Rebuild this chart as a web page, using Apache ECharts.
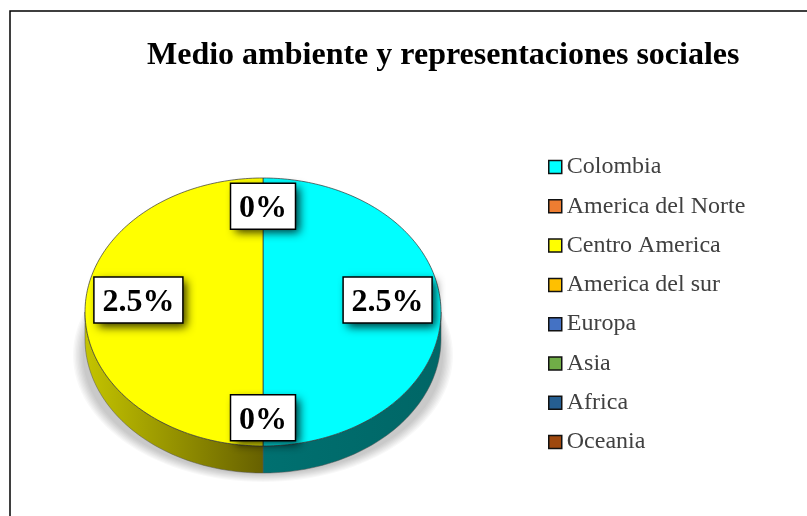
<!DOCTYPE html>
<html>
<head>
<meta charset="utf-8">
<script src="https://cdn.jsdelivr.net/npm/echarts@6/dist/echarts.min.js"></script>
<style>
    html, body { margin: 0; padding: 0; background: #fff; overflow: hidden; }
    #chart { width: 807px; height: 516px; }
</style>
</head>
<body>
<div id="chart"></div>
<script>
const categories = ['Colombia', 'America del Norte', 'Centro America', 'America del sur', 'Europa', 'Asia', 'Africa', 'Oceania'];
const values = [2.5, 0, 2.5, 0, 0, 0, 0, 0];
const colors = ['#00FFFF', '#ED7D31', '#FFFF00', '#FFC000', '#4472C4', '#70AD47', '#255E91', '#9E480E'];
const wallLeft = ['#007070', '#8a4a1c', '#c4c400', '#9a7500', '#2a4678', '#44692b', '#173a5a', '#602b08'];
const wallRight = ['#006666', '#8a4a1c', '#666000', '#9a7500', '#2a4678', '#44692b', '#173a5a', '#602b08'];

const FONT = '"Liberation Serif", "Times New Roman", serif';
const LABEL_FONT = 'bold 32px ' + FONT;
const total = values.reduce((a, b) => a + b, 0);
const cx = 263, cy = 312, rx = 178, ry = 134, depth = 27;

// angle is clockwise from the top of the ellipse, in radians
function pt(angle, dy) {
    return [cx + rx * Math.sin(angle), cy - ry * Math.cos(angle) + (dy || 0)];
}

function arc(from, to, dy) {
    const pts = [];
    const n = Math.max(2, Math.ceil(Math.abs(to - from) / 0.02));
    for (let i = 0; i <= n; i++) {
        pts.push(pt(from + (to - from) * i / n, dy));
    }
    return pts;
}

function sliceRange(index) {
    const before = values.slice(0, index).reduce((a, b) => a + b, 0);
    const start = before / total * Math.PI * 2;
    return [start, start + values[index] / total * Math.PI * 2];
}

const measureCtx = document.createElement('canvas').getContext('2d');

function labelElements(text, x, y) {
    measureCtx.font = LABEL_FONT;
    const w = measureCtx.measureText(text).width + 17;
    const h = 46;
    const box = {x: x - w / 2, y: y - h / 2, width: w, height: h};
    return [
        {
            // shadow goes on a plain rect so the stroke does not tint the fill
            type: 'rect',
            z2: 10,
            shape: box,
            style: {
                fill: '#fff',
                shadowBlur: 9,
                shadowColor: 'rgba(0, 0, 0, 0.8)',
                shadowOffsetX: 4,
                shadowOffsetY: 4,
            },
        },
        {
            type: 'rect',
            z2: 11,
            shape: box,
            style: {fill: '#fff', stroke: '#000', lineWidth: 1.5},
        },
        {
            type: 'text',
            x: x,
            y: y + 3,
            z2: 12,
            style: {text: text, font: LABEL_FONT, fill: '#000', align: 'center', verticalAlign: 'middle'},
        },
    ];
}

function renderSlice(index, api) {
    const value = api.value(0);
    const [start, end] = sliceRange(index);
    let children = [];

    if (value > 0) {
        // side wall, only the front half of the disc can be seen
        const wallFrom = Math.max(start, Math.PI / 2);
        const wallTo = Math.min(end, Math.PI * 1.5);
        if (wallTo > wallFrom) {
            const top = arc(wallFrom, wallTo, 0);
            const bottom = arc(wallTo, wallFrom, depth);
            children.push({
                type: 'polygon',
                shape: {points: top.concat(bottom)},
                style: {
                    fill: new echarts.graphic.LinearGradient(0, 0, 1, 0, [
                        {offset: 0, color: wallLeft[index]},
                        {offset: 1, color: wallRight[index]},
                    ]),
                    stroke: '#555',
                    lineWidth: 0.5,
                },
                z2: 1,
            });
        }
        children.push({
            type: 'polygon',
            shape: {points: [[cx, cy]].concat(arc(start, end, 0))},
            style: {fill: colors[index], stroke: '#333', lineWidth: 0.7},
            z2: 2,
        });
    }

    // zero slices share one angle, so only the first of each run gets a label
    if (value > 0 || values[index - 1] > 0) {
        const mid = (start + end) / 2;
        const lx = cx + rx * 0.7 * Math.sin(mid);
        const ly = cy - ry * 0.79 * Math.cos(mid) - 12 * Math.abs(Math.sin(mid));
        children = children.concat(labelElements(value + '%', lx, ly));
    }
    return {type: 'group', children: children};
}

// soft shadow under the disc, stacked see-through ellipses fade it out
const shadowRings = [];
for (let k = 0; k < 8; k++) {
    shadowRings.push({
        type: 'ellipse',
        z: 0,
        shape: {cx: cx, cy: cy + 43, rx: rx + 12 - k * 1.4, ry: ry - 7 - k * 1.1},
        style: {fill: 'rgba(0, 0, 0, 0.028)'},
    });
}

const option = {
    animation: false,
    backgroundColor: '#fff',
    title: {
        text: 'Medio ambiente y representaciones sociales',
        left: 147,
        top: 40,
        padding: 0,
        textStyle: {fontFamily: FONT, fontSize: 32, fontWeight: 'bold', color: '#000'},
    },
    legend: {
        orient: 'vertical',
        left: 548,
        top: 154,
        padding: 0,
        selectedMode: false,
        icon: 'rect',
        itemWidth: 13,
        itemHeight: 13,
        itemGap: 13.3,
        textStyle: {fontFamily: FONT, fontSize: 24, color: '#404040', lineHeight: 26},
        data: categories.map((name, i) => ({
            name: name,
            itemStyle: {color: colors[i], borderColor: '#111', borderWidth: 1.5},
        })),
    },
    graphic: shadowRings.concat([
        {
            // frame of the original figure, cut by the right and bottom edges
            type: 'polyline',
            z: 1,
            shape: {points: [[10, 516], [10, 11], [807, 11]]},
            style: {fill: null, stroke: '#000', lineWidth: 1.5},
        },
    ]),
    series: categories.map((name, i) => ({
        name: name,
        type: 'custom',
        coordinateSystem: 'none',
        itemStyle: {color: colors[i]},
        data: [[values[i]]],
        renderItem: (params, api) => renderSlice(i, api),
    })),
};

const chart = echarts.init(document.getElementById('chart'));
chart.setOption(option);
</script>
</body>
</html>
